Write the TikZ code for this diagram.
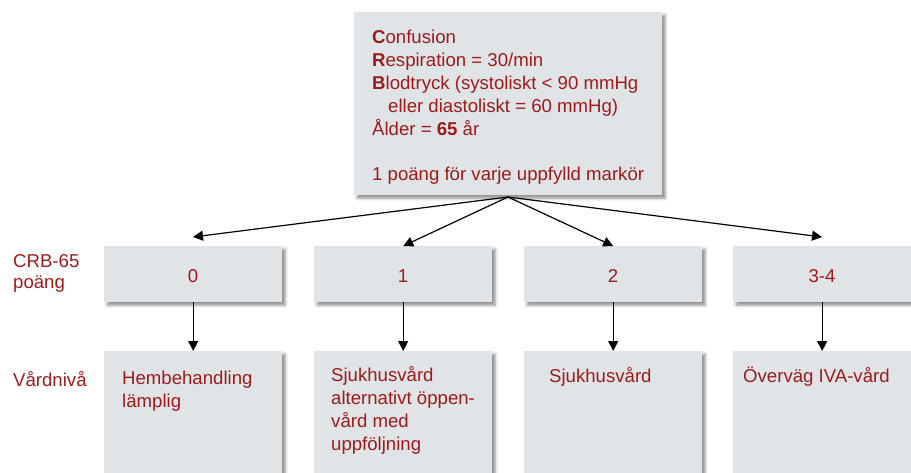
\documentclass[tikz,border=0pt]{standalone}
\usepackage{fontspec}
\setmainfont{Liberation Sans}
\usetikzlibrary{arrows.meta,shadows.blur}
\definecolor{txtred}{HTML}{9E1B1B}
\definecolor{boxgray}{HTML}{E1E4E7}
\begin{document}
\begin{tikzpicture}[x=1pt,y=-1pt,
  box/.style={fill=boxgray, draw=none, anchor=north west, inner sep=0pt,
    blur shadow={shadow xshift=3pt, shadow yshift=-3pt, shadow blur radius=3pt, shadow opacity=45}},
  txt/.style={text=txtred, font=\fontsize{18.6}{23}\selectfont, inner sep=0pt, align=left},
  arr/.style={-{Triangle[length=10pt,width=10pt]}, line width=1.2pt, black}]
\useasboundingbox (0,0) rectangle (911,473);

% top box
\node[box, minimum width=308pt, minimum height=183pt] (top) at (354,12) {};
\node[txt, anchor=north west] (toptxt) at (372,29.5)
  {\textbf{C}onfusion\\
   \textbf{R}espiration = 30/min\\
   \textbf{B}lodtryck (systoliskt < 90 mmHg\\
   \hspace*{16pt}eller diastoliskt = 60 mmHg)\\
   Ålder = \textbf{65} år\\[22pt]
   1 poäng för varje uppfylld markör};

% row 1 boxes
\node[box, minimum width=178pt, minimum height=56pt] (s0) at (104,246) {};
\node[box, minimum width=178pt, minimum height=56pt] (s1) at (314,246) {};
\node[box, minimum width=178pt, minimum height=56pt] (s2) at (524,246) {};
\node[box, minimum width=178pt, minimum height=56pt] (s3) at (733,246) {};
\node[txt, anchor=base] (t0) at (193,283) {0};
\node[txt, anchor=base] (t1) at (403,283) {1};
\node[txt, anchor=base] (t2) at (613,283) {2};
\node[txt, anchor=base] (t3) at (822,283) {3-4};

% row 2 boxes
\node[box, minimum width=178pt, minimum height=122pt] (v0) at (104,351) {};
\node[box, minimum width=178pt, minimum height=122pt] (v1) at (314,351) {};
\node[box, minimum width=178pt, minimum height=122pt] (v2) at (524,351) {};
\node[box, minimum width=178pt, minimum height=122pt] (v3) at (733,351) {};
\node[txt, anchor=north west] (w0) at (122,371) {Hembehandling\\lämplig};
\node[txt, anchor=north west] (w1) at (331,366) {Sjukhusvård\\alternativt öppen-\\vård med\\uppföljning};
\node[txt, anchor=north west] (w2) at (549,367) {Sjukhusvård};
\node[txt, anchor=north west] (w3) at (743,367) {Överväg IVA-vård};

% side labels
\node[txt, anchor=north west, font=\fontsize{18.6}{21}\selectfont] (crb) at (13,254) {CRB-65\\poäng};
\node[txt, anchor=north west] (vard) at (13,371) {Vårdnivå};

% connectors
\coordinate (apex) at (508,197);
\coordinate (a0) at (193,237);
\coordinate (a3) at (822,237);
\draw[arr] (apex) -- (a0);
\draw[arr] (apex) -- (s1.north);
\draw[arr] (apex) -- (s2.north);
\draw[arr] (apex) -- (a3);
\draw[arr] (s0.south) -- (v0.north);
\draw[arr] (s1.south) -- (v1.north);
\draw[arr] (s2.south) -- (v2.north);
\draw[arr] (s3.south) -- (v3.north);
\end{tikzpicture}
\end{document}
